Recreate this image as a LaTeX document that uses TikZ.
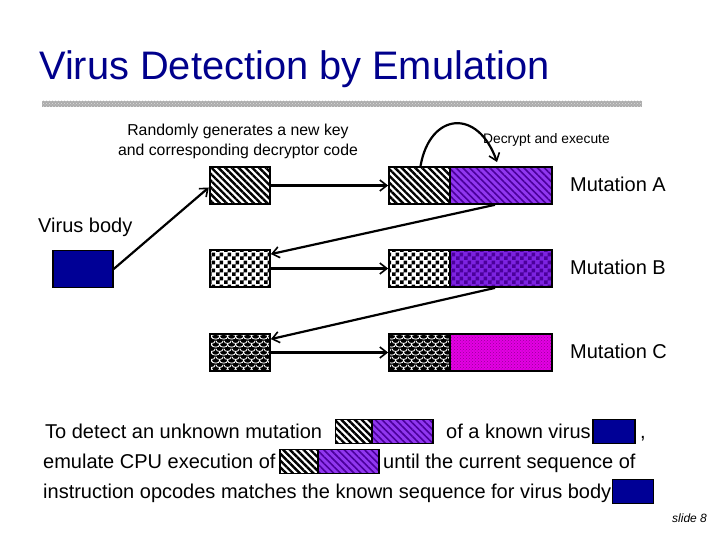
\documentclass[tikz,border=0pt]{standalone}
\usepackage{fontspec}
\setmainfont{Liberation Sans}
\usepackage{xcolor}
\usepackage{tikz}
\usetikzlibrary{arrows.meta,patterns,patterns.meta}

\definecolor{titlenavy}{RGB}{0,0,140}
\definecolor{bodynavy}{RGB}{0,0,150}
\definecolor{violetA}{RGB}{145,55,240}
\definecolor{violetB}{RGB}{125,35,225}
\definecolor{darkviolet}{RGB}{75,0,155}
\definecolor{magentaC}{RGB}{228,0,228}
\definecolor{darkmagenta}{RGB}{150,0,150}

% small checker and scale tiles for the key boxes
\pgfdeclarepatternformonly{keychecks}{\pgfqpoint{0pt}{0pt}}{\pgfqpoint{8pt}{8pt}}{\pgfqpoint{8pt}{8pt}}{%
\pgfpathrectangle{\pgfqpoint{0pt}{0pt}}{\pgfqpoint{4pt}{4pt}}%
\pgfpathrectangle{\pgfqpoint{4pt}{4pt}}{\pgfqpoint{4pt}{4pt}}%
\pgfusepath{fill}}
\pgfdeclarepatternformonly{keyscales}{\pgfqpoint{0pt}{0pt}}{\pgfqpoint{8pt}{8pt}}{\pgfqpoint{8pt}{8pt}}{%
\pgfsetlinewidth{0.9pt}%
\pgfpathmoveto{\pgfqpoint{0pt}{8pt}}\pgfpathcurveto{\pgfqpoint{0pt}{4pt}}{\pgfqpoint{8pt}{4pt}}{\pgfqpoint{8pt}{8pt}}%
\pgfpathmoveto{\pgfqpoint{-4pt}{4pt}}\pgfpathcurveto{\pgfqpoint{-4pt}{0pt}}{\pgfqpoint{4pt}{0pt}}{\pgfqpoint{4pt}{4pt}}%
\pgfpathcurveto{\pgfqpoint{4pt}{0pt}}{\pgfqpoint{12pt}{0pt}}{\pgfqpoint{12pt}{4pt}}%
\pgfusepath{stroke}}

\begin{document}
\begin{tikzpicture}[x=1pt,y=-1pt,
arr/.style={line width=2.2pt,-{Straight Barb[length=7pt,width=11pt,line width=1.6pt]}},
keybox/.style={draw=black,line width=1.8pt,minimum width=60pt,minimum height=37pt,inner sep=0pt},
partbox/.style={draw=black,line width=1.8pt,minimum width=102pt,minimum height=37pt,inner sep=0pt},
minibox/.style={draw=black,line width=1.4pt,minimum height=24pt,inner sep=0pt},
hatchkey/.style={preaction={fill=white},pattern={Lines[angle=-45,distance=4.8pt,line width=2.4pt]},pattern color=black},
checkkey/.style={preaction={fill=white},pattern=keychecks,pattern color=black},
scalekey/.style={preaction={fill=black},pattern=keyscales,pattern color=white},
hatchbody/.style={preaction={fill=violetA},pattern={Lines[angle=-45,distance=4.8pt,line width=1.6pt]},pattern color=darkviolet},
checkbody/.style={preaction={fill=violetB},pattern=keychecks,pattern color=darkviolet},
dotbody/.style={preaction={fill=magentaC},pattern=crosshatch dots,pattern color=darkmagenta},
virusbody/.style={fill=bodynavy,draw=black,line width=1.4pt},
txt/.style={inner sep=0pt,anchor=base west,font=\fontsize{20}{24}\selectfont}]
\useasboundingbox(0,0)rectangle(720,540);

% title and rule
\node[inner sep=0pt,anchor=base west,text=titlenavy,font=\fontsize{39.8}{44}\selectfont](title)at(39,80){Virus Detection by Emulation};
\fill[gray!65,postaction={pattern=crosshatch dots,pattern color=gray!25}](42,101)rectangle(642,107);

% notes
\node[inner sep=0pt,align=center,font=\fontsize{15.8}{20}\selectfont](gennote)at(238,141){Randomly generates a new key\\and corresponding decryptor code};
\node[inner sep=0pt,anchor=base west,font=\fontsize{13.8}{16}\selectfont](decnote)at(483,144){Decrypt and execute};

% keys and mutations
\node[keybox,hatchkey](key1)at(240,185.5){};
\node[keybox,checkkey](key2)at(240,268.5){};
\node[keybox,scalekey](key3)at(240,352.5){};
\node[keybox,minimum width=61pt,hatchkey](mutAL)at(419.5,185.5){};
\node[keybox,minimum width=61pt,checkkey](mutBL)at(419.5,268.5){};
\node[keybox,minimum width=61pt,scalekey](mutCL)at(419.5,352.5){};
\node[partbox,hatchbody](mutAR)at(501,185.5){};
\node[partbox,checkbody](mutBR)at(501,268.5){};
\node[partbox,dotbody](mutCR)at(501,352.5){};
\node[txt](labA)at(570,192){Mutation A};
\node[txt](labB)at(570,274){Mutation B};
\node[txt](labC)at(570,358){Mutation C};

% virus body
\node[txt](labV)at(38,233){Virus body};
\node[virusbody,minimum width=60pt,minimum height=37pt,inner sep=0pt](vbody)at(83,269){};

\draw[arr](vbody.east)--([yshift=-2pt]key1.west);
\draw[arr](key1)--(mutAL);
\draw[arr](key2)--(mutBL);
\draw[arr](key3)--(mutCL);
\draw[arr]([xshift=-6pt]mutAR.south)--([yshift=-5pt]key2.north east);
\draw[arr]([xshift=-6pt]mutBR.south)--([yshift=-6pt]key3.north east);
\coordinate(decpt)at(497,162);
\draw[arr]([xshift=1pt]mutAL.north)..controls(430,112)and(478,108)..(decpt);

% bottom text
\node[txt](line1)at(45,438){To detect an unknown mutation};
\node[minibox,minimum width=37pt,hatchkey](seqAL)at(354,431.5){};
\node[minibox,minimum width=61pt,hatchbody](seqAR)at(402.5,431.5){};
\node[txt](line1b)at(446,438){of a known virus};
\node[minibox,minimum width=42pt,virusbody](seqV)at(614,431.5){};
\node[txt](comma)at(640,438){,};
\node[txt](line2)at(43,468){emulate CPU execution of};
\node[minibox,minimum width=38pt,hatchkey](emuAL)at(299,461.5){};
\node[minibox,minimum width=61pt,hatchbody](emuAR)at(348.5,461.5){};
\node[txt](line2b)at(383,468){until the current sequence of};
\node[txt](line3)at(43,498){instruction opcodes matches the known sequence for virus body};
\node[minibox,minimum width=41pt,virusbody](endV)at(633,491.5){};
\node[inner sep=0pt,anchor=base west,font=\fontsize{12}{14}\selectfont\itshape](slide)at(672,522){slide 8};
\end{tikzpicture}
\end{document}
